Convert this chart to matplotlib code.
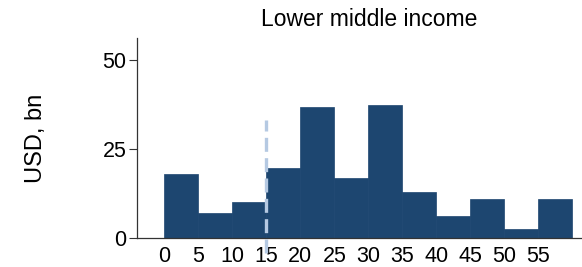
import matplotlib
matplotlib.use("Agg")
import matplotlib.pyplot as plt

bin_edges = [0, 5, 10, 15, 20, 25, 30, 35, 40, 45, 50, 55]
bin_width = 5
values = [18.0, 7.0, 10.2, 19.6, 36.9, 17.0, 37.2, 12.9, 6.3, 11.1, 2.6, 11.0]
xtick_vals = [0, 5, 10, 15, 20, 25, 30, 35, 40, 45, 50, 55]
ytick_vals = [0, 25, 50]
threshold = 15
title = "Lower middle income"
ylabel = "USD, bn"

plt.rcParams['font.family'] = ['Liberation Sans', 'DejaVu Sans']

fig = plt.figure(figsize=(5.82, 2.67), dpi=100)
W, H = 582, 267
ax = fig.add_axes([136.7 / W, 1 - 238.3 / H, (582 - 136.7) / W, (238.3 - 38.3) / H])

ax.bar(bin_edges, values, width=bin_width, align='edge', color='#1d4670',
       edgecolor='#1d4670', linewidth=0.5)

ax.plot([threshold, threshold], [-4.2, 33], color='#b5c9e2', linewidth=2.4,
        linestyle=(0, (4.2, 1.9)), clip_on=False, zorder=5)

ax.set_xlim(-4.06, 61.4)
ax.set_ylim(0, 56)
ax.set_xticks(xtick_vals)
ax.set_xticklabels([str(v) for v in xtick_vals])
ax.set_yticks(ytick_vals)
ax.tick_params(axis='x', length=0, pad=5.5, labelsize=15.5)
ax.tick_params(axis='y', length=6, width=0.8, pad=1.5, labelsize=15.5, color='#333333')
for s in ['top', 'right']:
    ax.spines[s].set_visible(False)
ax.spines['left'].set_color('#333333')
ax.spines['bottom'].set_color('#333333')
ax.spines['left'].set_linewidth(0.9)
ax.spines['bottom'].set_linewidth(0.9)

fig.text(36 / W, 1 - 138 / H, ylabel, rotation=90, ha='center', va='center', fontsize=17)
fig.text(369 / W, 1 - 20 / H, title, ha='center', va='center', fontsize=16.5)

fig.savefig("out.png", dpi=100)
